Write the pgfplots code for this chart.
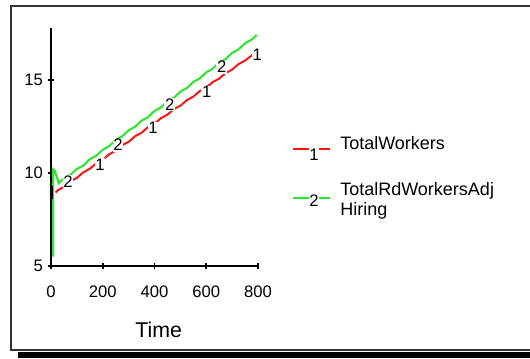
\documentclass[border=0pt]{standalone}
\usepackage{pgfplots}
\pgfplotsset{compat=1.18}
\usepackage{fontspec}
\setmainfont{Liberation Sans}
\definecolor{lred}{RGB}{255,20,20}
\definecolor{lgreen}{RGB}{40,230,40}
\begin{document}
\begin{tikzpicture}
\useasboundingbox (0,0) rectangle (397.5pt,268.5pt);
\begin{scope}
\clip (0,0) rectangle (397.5pt,268.5pt);
\fill[black] (13.5pt,0) rectangle (420pt,4.8pt);
\draw[line width=1.5pt, black!80] (8.25pt,6pt) rectangle (420pt,264pt);
\end{scope}
\begin{axis}[at={(38.25pt,69pt)}, anchor=south west, scale only axis,
  width=155.25pt, height=178.5pt,
  xmin=0, xmax=800, ymin=5, ymax=17.8,
  axis x line*=bottom, axis y line*=left,
  axis line style={line width=1.2pt,-},
  xtick={0,200,400,600,800}, ytick={5,10,15},
  tick align=center, major tick length=5pt,
  tick style={line width=1.2pt,black},
  /pgf/number format/assume math mode=true,
  tick label style={font=\fontsize{12.5}{14}\selectfont},
  xticklabel style={yshift=-9pt},
  xlabel={Time},
  every axis x label/.style={at={(axis description cs:0.52,0)},anchor=center,yshift=-48pt,font=\fontsize{16}{18}\selectfont},
  clip=false]
\addplot[lgreen, line width=1.5pt] coordinates {
(8,5.5)(8,10.2)(15,10.1)(30,9.45)(40,9.6)(50,9.70)(75,9.90)(100,10.22)(125,10.40)(150,10.74)(175,10.93)(200,11.25)(225,11.45)(250,11.78)(275,11.97)(300,12.30)(325,12.49)(350,12.82)(375,13.00)(400,13.34)(425,13.53)(450,13.86)(475,14.05)(500,14.38)(525,14.57)(550,14.90)(575,15.09)(600,15.42)(625,15.61)(650,15.94)(675,16.13)(700,16.46)(725,16.65)(750,16.98)(775,17.17)(795,17.43)};
\addplot[lred, line width=1.5pt] coordinates {
(18,8.95)(25,9.06)(50,9.26)(75,9.56)(100,9.74)(125,10.04)(150,10.23)(175,10.53)(200,10.71)(225,11.01)(250,11.20)(275,11.50)(300,11.68)(325,11.98)(350,12.17)(375,12.47)(400,12.65)(425,12.95)(450,13.14)(475,13.44)(500,13.62)(525,13.92)(550,14.11)(575,14.41)(600,14.59)(625,14.89)(650,15.08)(675,15.38)(700,15.56)(725,15.86)(750,16.05)(780,16.37)};
\addplot[black, line width=2pt] coordinates {(4,8.6)(4,9.3)};
\addplot[draw=none, nodes near coords={1}, every node near coord/.style={anchor=center, fill=white, inner sep=0.5pt, font=\fontsize{12.5}{14}\selectfont}] coordinates {(189,10.45)(394,12.42)(602,14.35)(797,16.35)};
\addplot[draw=none, nodes near coords={2}, every node near coord/.style={anchor=center, fill=white, inner sep=0.5pt, font=\fontsize{12.5}{14}\selectfont}] coordinates {(66,9.52)(259,11.5)(459,13.66)(660,15.7)};
\end{axis}
\draw[lred, line width=1.5pt] (219.75pt,156.75pt) -- (247.5pt,156.75pt);
\node[fill=white, inner sep=0.5pt, font=\fontsize{12.5}{14}\selectfont] at (235.5pt,152.5pt) {1};
\node[anchor=west, inner sep=0pt, font=\fontsize{13.5}{15}\selectfont] at (255pt,161.25pt) {TotalWorkers};
\draw[lgreen, line width=1.5pt] (219.75pt,120pt) -- (247.5pt,120pt);
\node[fill=white, inner sep=0.5pt, font=\fontsize{12.5}{14}\selectfont] at (235.5pt,117.75pt) {2};
\node[anchor=west, inner sep=0pt, font=\fontsize{13.5}{15}\selectfont] at (255pt,125.25pt) {TotalRdWorkersAdj};
\node[anchor=west, inner sep=0pt, font=\fontsize{13.5}{15}\selectfont] at (255pt,110.25pt) {Hiring};
\end{tikzpicture}
\end{document}
